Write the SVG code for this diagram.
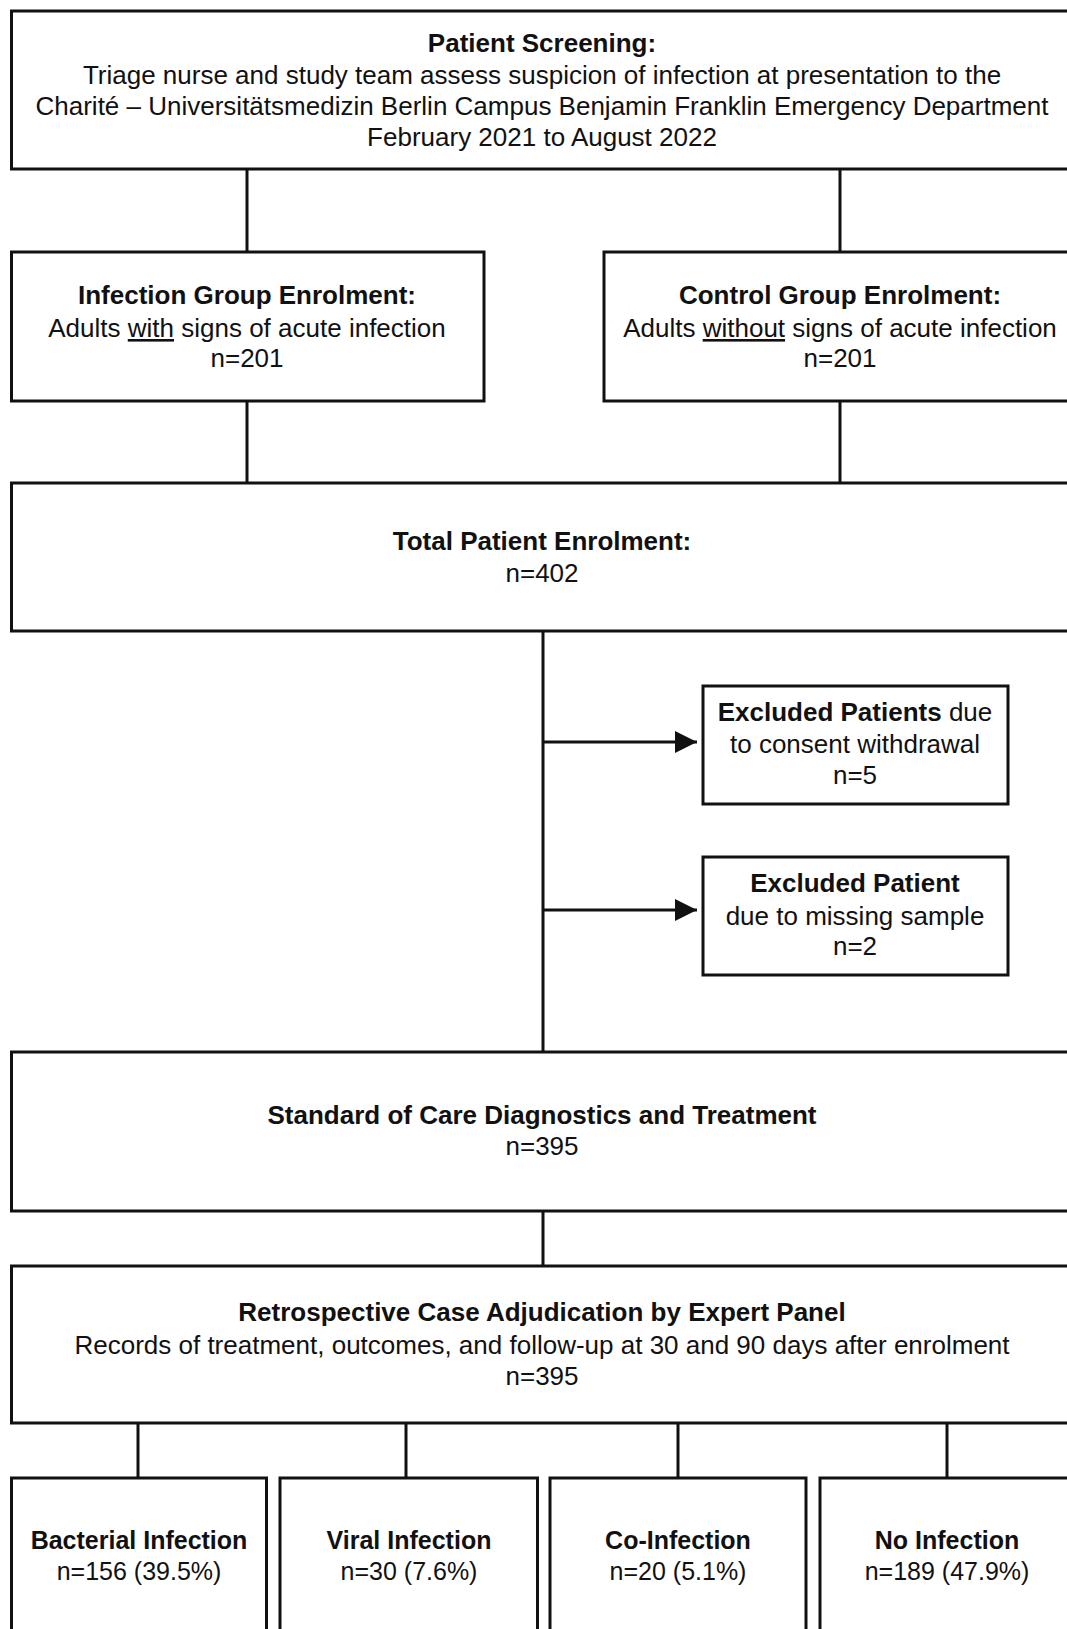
<svg xmlns="http://www.w3.org/2000/svg" width="1067" height="1629" viewBox="0 0 1067 1629">
<style>
.box{fill:#ffffff;stroke:#111111;stroke-width:3}
.ln{stroke:#111111;stroke-width:3;fill:none}
text{font-family:"Liberation Sans",Arial,sans-serif;font-size:26px;fill:#111111;text-anchor:middle}
.b{font-weight:bold}
.s{font-size:25px}
.u{text-decoration:underline}
</style>
<defs>
<marker id="arr" markerUnits="userSpaceOnUse" markerWidth="24" markerHeight="24" refX="22" refY="11" orient="auto">
<path d="M0,0 L22,11 L0,22 Z" fill="#111111"/>
</marker>
</defs>
<rect width="1067" height="1629" fill="#ffffff"/>
<g id="connectors">
<line class="ln" x1="247" y1="169" x2="247" y2="252"/>
<line class="ln" x1="840" y1="169" x2="840" y2="252"/>
<line class="ln" x1="247" y1="401" x2="247" y2="483"/>
<line class="ln" x1="840" y1="401" x2="840" y2="483"/>
<line class="ln" x1="543" y1="631" x2="543" y2="1052"/>
<line class="ln" x1="543" y1="742" x2="697" y2="742" marker-end="url(#arr)"/>
<line class="ln" x1="543" y1="910" x2="697" y2="910" marker-end="url(#arr)"/>
<line class="ln" x1="543" y1="1211" x2="543" y2="1266"/>
<line class="ln" x1="138" y1="1423" x2="138" y2="1478"/>
<line class="ln" x1="406" y1="1423" x2="406" y2="1478"/>
<line class="ln" x1="678" y1="1423" x2="678" y2="1478"/>
<line class="ln" x1="947" y1="1423" x2="947" y2="1478"/>
</g>
<g id="screening">
<rect class="box" x="11.5" y="11" width="1062" height="158"/>
<text x="542" y="52" class="b">Patient Screening:</text>
<text x="542" y="84">Triage nurse and study team assess suspicion of infection at presentation to the</text>
<text x="542" y="115">Charité – Universitätsmedizin Berlin Campus Benjamin Franklin Emergency Department</text>
<text x="542" y="146">February 2021 to August 2022</text>
</g>
<g id="infection">
<rect class="box" x="11.5" y="252" width="472.5" height="149"/>
<text x="247" y="304" class="b">Infection Group Enrolment:</text>
<text x="247" y="337">Adults <tspan class="u">with</tspan> signs of acute infection</text>
<text x="247" y="367">n=201</text>
</g>
<g id="control">
<rect class="box" x="604" y="252" width="472" height="149"/>
<text x="840" y="304" class="b">Control Group Enrolment:</text>
<text x="840" y="337">Adults <tspan class="u">without</tspan> signs of acute infection</text>
<text x="840" y="367">n=201</text>
</g>
<g id="total">
<rect class="box" x="11.5" y="483" width="1062" height="148"/>
<text x="542" y="550" class="b">Total Patient Enrolment:</text>
<text x="542" y="582">n=402</text>
</g>
<g id="excluded1">
<rect class="box" x="703" y="686" width="305" height="118"/>
<text x="855" y="721"><tspan class="b">Excluded Patients</tspan> due</text>
<text x="855" y="753">to consent withdrawal</text>
<text x="855" y="784">n=5</text>
</g>
<g id="excluded2">
<rect class="box" x="703" y="857" width="305" height="118"/>
<text x="855" y="892" class="b">Excluded Patient</text>
<text x="855" y="925">due to missing sample</text>
<text x="855" y="955">n=2</text>
</g>
<g id="standard">
<rect class="box" x="11.5" y="1052" width="1062" height="159"/>
<text x="542" y="1124" class="b">Standard of Care Diagnostics and Treatment</text>
<text x="542" y="1155">n=395</text>
</g>
<g id="retro">
<rect class="box" x="11.5" y="1266" width="1062" height="157"/>
<text x="542" y="1321" class="b">Retrospective Case Adjudication by Expert Panel</text>
<text x="542" y="1354">Records of treatment, outcomes, and follow-up at 30 and 90 days after enrolment</text>
<text x="542" y="1385">n=395</text>
</g>
<g id="bacterial">
<rect class="box" x="11.5" y="1478" width="255" height="170"/>
<text x="139" y="1549" class="b s">Bacterial Infection</text>
<text x="139" y="1580" class="s">n=156 (39.5%)</text>
</g>
<g id="viral">
<rect class="box" x="280" y="1478" width="257.5" height="170"/>
<text x="409" y="1549" class="b s">Viral Infection</text>
<text x="409" y="1580" class="s">n=30 (7.6%)</text>
</g>
<g id="coinfection">
<rect class="box" x="550" y="1478" width="256" height="170"/>
<text x="678" y="1549" class="b s">Co-Infection</text>
<text x="678" y="1580" class="s">n=20 (5.1%)</text>
</g>
<g id="noinfection">
<rect class="box" x="820" y="1478" width="256" height="170"/>
<text x="947" y="1549" class="b s">No Infection</text>
<text x="947" y="1580" class="s">n=189 (47.9%)</text>
</g>
</svg>
